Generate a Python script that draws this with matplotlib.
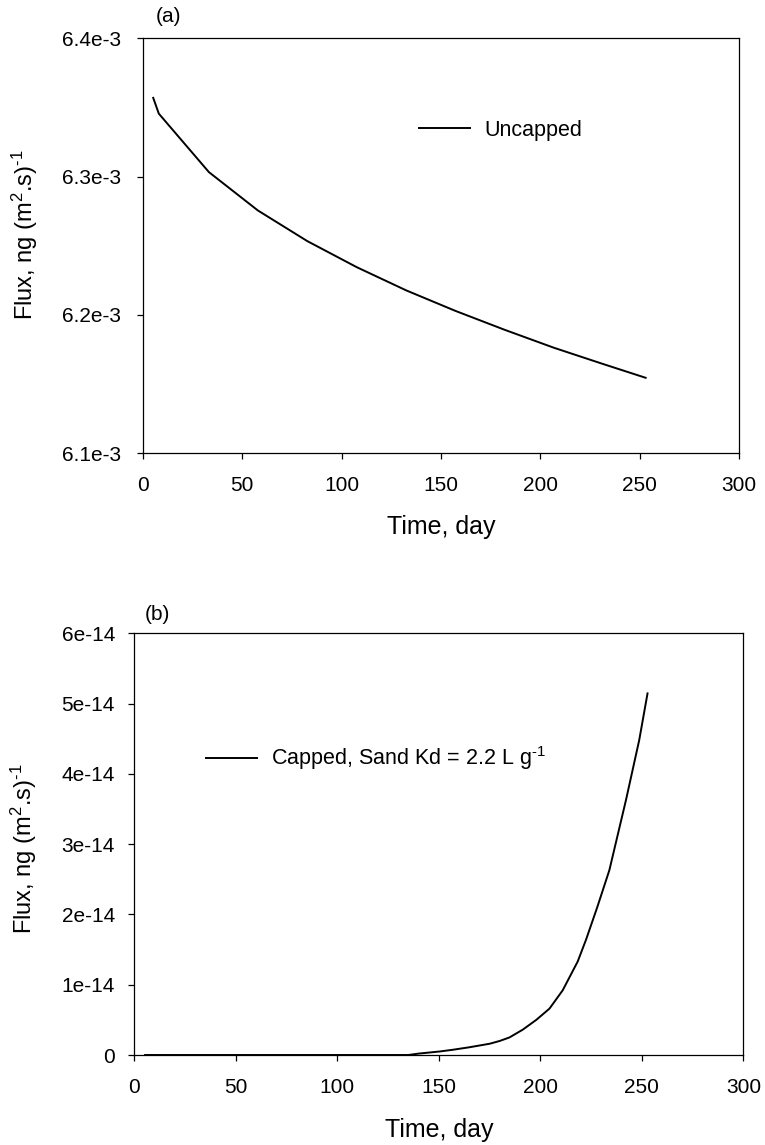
import matplotlib
matplotlib.use('Agg')
import matplotlib.pyplot as plt

plt.rcParams['font.family'] = ['Liberation Sans', 'DejaVu Sans']
plt.rcParams['mathtext.fontset'] = 'custom'
plt.rcParams['mathtext.rm'] = 'Liberation Sans'
plt.rcParams['mathtext.it'] = 'Liberation Sans:italic'

# (a) uncapped
days_a = [5.3, 8.1, 33.3, 57.9, 82.8, 107.6, 132.5, 157.2, 182.0, 206.8, 231.0, 252.9]
flux_a = [6.357e-3, 6.3456e-3, 6.3033e-3, 6.2756e-3, 6.2534e-3, 6.2346e-3,
          6.2178e-3, 6.2030e-3, 6.1893e-3, 6.1763e-3, 6.1648e-3, 6.1546e-3]
yticks_a = [6.1e-3, 6.2e-3, 6.3e-3, 6.4e-3]
yticklabels_a = ['6.1e-3', '6.2e-3', '6.3e-3', '6.4e-3']

# (b) capped
days_b = [5.3, 100, 135, 140, 150.4, 157, 165, 175, 180, 184.8, 191.3, 198, 204.5,
          211, 218.4, 222.5, 228, 234, 242.2, 248.7, 252.8]
flux_b = [0, 0, 0, 0.02e-14, 0.05e-14, 0.075e-14, 0.11e-14, 0.16e-14, 0.2e-14,
          0.25e-14, 0.36e-14, 0.50e-14, 0.66e-14, 0.92e-14, 1.33e-14, 1.64e-14,
          2.10e-14, 2.63e-14, 3.63e-14, 4.48e-14, 5.145e-14]
yticks_b = [0, 1e-14, 2e-14, 3e-14, 4e-14, 5e-14, 6e-14]
yticklabels_b = ['0', '1e-14', '2e-14', '3e-14', '4e-14', '5e-14', '6e-14']

xticks = [0, 50, 100, 150, 200, 250, 300]
xticklabels = ['0', '50', '100', '150', '200', '250', '300']
ylabel = r'Flux, ng (m$^2$.s)$^{\text{-}1}$'

fig = plt.figure(figsize=(7.65, 11.45), dpi=100)
ax1 = fig.add_axes([0.1865, 0.6041, 0.7799, 0.3624])
ax2 = fig.add_axes([0.1756, 0.0786, 0.7961, 0.3683])

ax1.plot(days_a, flux_a, color='black', lw=1.4, label='Uncapped')
ax2.plot(days_b, flux_b, color='black', lw=1.4, label=r'Capped, Sand Kd = 2.2 L g$^{\text{-}1}$')

ax1.set_ylim(6.1e-3, 6.4e-3)
ax1.set_yticks(yticks_a)
ax1.set_yticklabels(yticklabels_a)
ax2.set_ylim(0, 6e-14)
ax2.set_yticks(yticks_b)
ax2.set_yticklabels(yticklabels_b)

for ax, ypad, lx, ly in [(ax1, 11.5, -0.172, 0.526), (ax2, 9.6, -0.157, 0.49)]:
    ax.set_xlim(0, 300)
    ax.set_xticks(xticks)
    ax.set_xticklabels(xticklabels)
    ax.tick_params(axis='both', direction='out', length=4.3, width=0.9, labelsize=15, top=False, right=False)
    ax.tick_params(axis='y', pad=ypad)
    ax.tick_params(axis='x', pad=12)
    for s in ax.spines.values():
        s.set_linewidth(0.9)
    ax.set_xlabel('Time, day', fontsize=18)
    ax.set_ylabel(ylabel, fontsize=17)
    ax.xaxis.set_label_coords(0.5, -0.149)
    ax.yaxis.set_label_coords(lx, ly)

ax1.legend(loc='center left', bbox_to_anchor=(0.463, 0.779), frameon=False, fontsize=15.5,
           handlelength=2.37, handletextpad=0.65, borderpad=0, borderaxespad=0)
ax2.legend(loc='center left', bbox_to_anchor=(0.117, 0.7036), frameon=False, fontsize=15.5,
           handlelength=2.37, handletextpad=0.65, borderpad=0, borderaxespad=0)

ax1.text(0.0223, 1.052, '(a)', transform=ax1.transAxes, fontsize=15, va='center')
ax2.text(0.0176, 1.0434, '(b)', transform=ax2.transAxes, fontsize=15, va='center')

plt.savefig('out.png', dpi=100)
